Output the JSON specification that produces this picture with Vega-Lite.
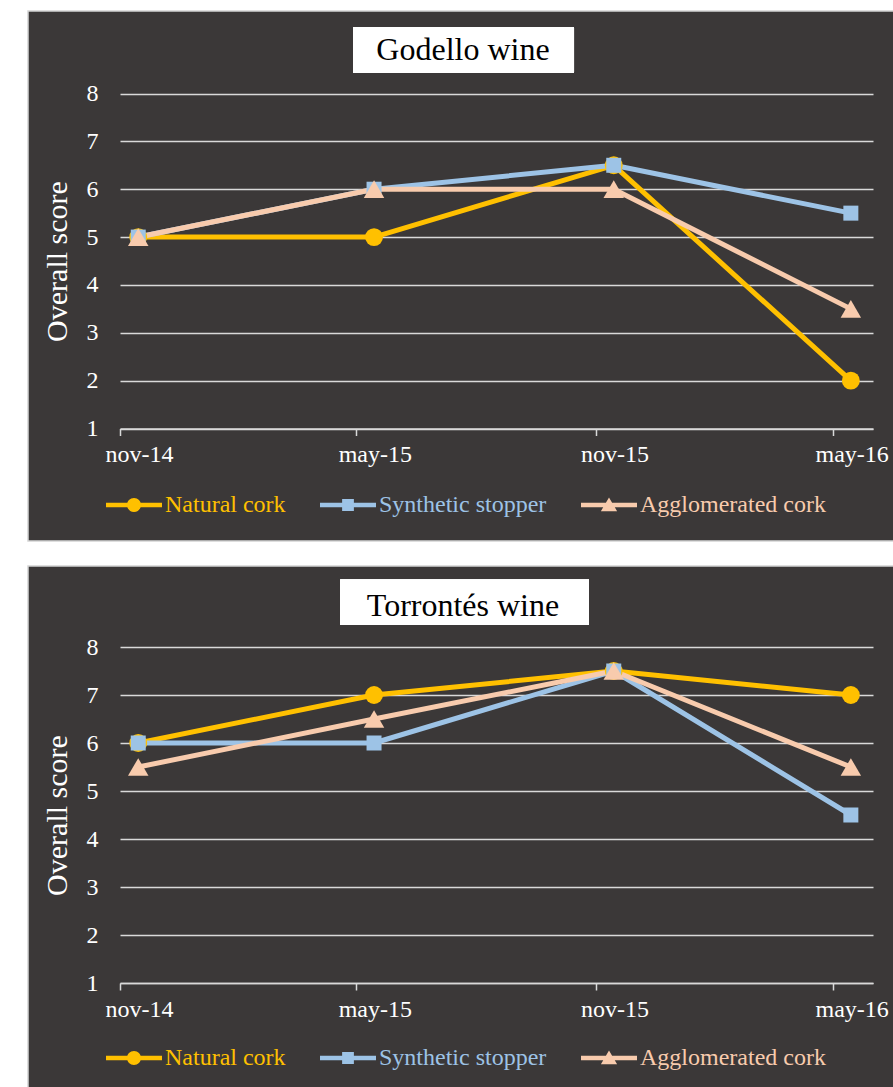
{
  "$schema": "https://vega.github.io/schema/vega-lite/v6.json",
  "background": "white",
  "padding": {"left": 27, "top": 10, "right": 0, "bottom": 0},
  "spacing": 23,
  "datasets": {
    "godello": [
      {"date": "2014-11-15", "series": "Natural cork", "score": 5},
      {"date": "2015-05-15", "series": "Natural cork", "score": 5},
      {"date": "2015-11-15", "series": "Natural cork", "score": 6.5},
      {"date": "2016-05-15", "series": "Natural cork", "score": 2},
      {"date": "2014-11-15", "series": "Synthetic stopper", "score": 5},
      {"date": "2015-05-15", "series": "Synthetic stopper", "score": 6},
      {"date": "2015-11-15", "series": "Synthetic stopper", "score": 6.5},
      {"date": "2016-05-15", "series": "Synthetic stopper", "score": 5.5},
      {"date": "2014-11-15", "series": "Agglomerated cork", "score": 5},
      {"date": "2015-05-15", "series": "Agglomerated cork", "score": 6},
      {"date": "2015-11-15", "series": "Agglomerated cork", "score": 6},
      {"date": "2016-05-15", "series": "Agglomerated cork", "score": 3.5}
    ],
    "torrontes": [
      {"date": "2014-11-15", "series": "Natural cork", "score": 6},
      {"date": "2015-05-15", "series": "Natural cork", "score": 7},
      {"date": "2015-11-15", "series": "Natural cork", "score": 7.5},
      {"date": "2016-05-15", "series": "Natural cork", "score": 7},
      {"date": "2014-11-15", "series": "Synthetic stopper", "score": 6},
      {"date": "2015-05-15", "series": "Synthetic stopper", "score": 6},
      {"date": "2015-11-15", "series": "Synthetic stopper", "score": 7.5},
      {"date": "2016-05-15", "series": "Synthetic stopper", "score": 4.5},
      {"date": "2014-11-15", "series": "Agglomerated cork", "score": 5.5},
      {"date": "2015-05-15", "series": "Agglomerated cork", "score": 6.5},
      {"date": "2015-11-15", "series": "Agglomerated cork", "score": 7.5},
      {"date": "2016-05-15", "series": "Agglomerated cork", "score": 5.5}
    ]
  },
  "resolve": {
    "scale": {"x": "independent", "y": "independent", "color": "independent"},
    "axis": {"x": "independent", "y": "independent"},
    "legend": {"color": "independent"}
  },
  "vconcat": [
    {
      "width": 870,
      "height": 530,
      "data": {"name": "godello"},
      "title": {"text": "Godello wine", "frame": "group", "anchor": "middle", "offset": -81, "baseline": "alphabetic", "font": "Liberation Serif", "fontSize": 32, "fontWeight": "normal", "color": "black"},
      "layer": [
        {
          "mark": {"type": "rect", "fill": "white"},
          "encoding": {
            "x": {"datum": {"year": 2015, "month": 4, "date": 29, "utc": true}, "type": "temporal"},
            "x2": {"datum": {"year": 2015, "month": 10, "date": 15, "hours": 12, "utc": true}},
            "y": {"datum": 9.38, "type": "quantitative"},
            "y2": {"datum": 8.44}
          }
        },
        {
          "mark": {"type": "line", "strokeWidth": 5, "strokeJoin": "round"},
          "encoding": {
            "x": {
              "field": "date", "type": "temporal",
              "scale": {"type": "utc", "domain": [{"year": 2014, "month": 11, "date": 1, "utc": true}, {"year": 2016, "month": 6, "date": 1, "utc": true}], "range": [92, 845]},
              "axis": {
                "title": null, "orient": "bottom", "offset": -112.5,
                "values": [{"year": 2014, "month": 11, "date": 1, "utc": true}, {"year": 2015, "month": 5, "date": 1, "utc": true}, {"year": 2015, "month": 11, "date": 1, "utc": true}, {"year": 2016, "month": 5, "date": 1, "utc": true}],
                "labelExpr": "lower(utcFormat(datum.value, '%b-%y'))",
                "grid": false, "domainColor": "#D9D9D9", "domainWidth": 1.5, "tickColor": "#D9D9D9", "tickWidth": 1.5, "tickSize": 7,
                "labelOffset": 19, "labelPadding": 7, "labelFont": "Liberation Serif", "labelFontSize": 24, "labelColor": "white",
                "labelFlush": false, "labelOverlap": false, "labelBound": false
              }
            },
            "y": {
              "field": "score", "type": "quantitative",
              "scale": {"domain": [1, 8], "range": [417.5, 82.5], "nice": false, "zero": false},
              "axis": {
                "title": "Overall score", "orient": "left", "offset": -92, "values": [1, 2, 3, 4, 5, 6, 7, 8], "format": "d",
                "grid": true, "gridColor": "#D9D9D9", "gridWidth": 1.5, "domain": false, "ticks": false,
                "labelPadding": 22, "labelFont": "Liberation Serif", "labelFontSize": 24, "labelColor": "white",
                "titleFont": "Liberation Serif", "titleFontSize": 30, "titleFontWeight": "normal", "titleColor": "white", "titlePadding": 14
              }
            },
            "color": {
              "field": "series", "type": "nominal",
              "scale": {"domain": ["Natural cork", "Synthetic stopper", "Agglomerated cork"], "range": ["#FFC000", "#9DC3E6", "#F8CBAD"]},
              "legend": {
                "orient": "none", "legendX": 78, "legendY": 466, "direction": "horizontal", "title": null, "padding": 0,
                "symbolSize": 3136, "symbolStrokeWidth": 0,
                "labelFont": "Liberation Serif", "labelFontSize": 24, "labelOffset": 3, "columnPadding": 34, "labelLimit": 400,
                "encode": {
                  "symbols": {"update": {
                    "shape": {"signal": "datum.value === 'Natural cork' ? 'M-1,-0.08L1,-0.08L1,0.08L-1,0.08Z M-0.25,0A0.25,0.25 0 1,1 0.25,0A0.25,0.25 0 1,1 -0.25,0Z' : datum.value === 'Synthetic stopper' ? 'M-1,-0.08L1,-0.08L1,0.08L-1,0.08Z M-0.21,-0.21L0.21,-0.21L0.21,0.21L-0.21,0.21Z' : 'M-1,-0.08L1,-0.08L1,0.08L-1,0.08Z M0,-0.27L0.29,0.22L-0.29,0.22Z'"},
                    "size": {"value": 3136},
                    "fill": {"signal": "datum.value === 'Natural cork' ? '#FFC000' : datum.value === 'Synthetic stopper' ? '#9DC3E6' : '#F8CBAD'"},
                    "stroke": {"value": "transparent"},
                    "strokeWidth": {"value": 0},
                    "opacity": {"value": 1},
                    "fillOpacity": {"value": 1}
                  }},
                  "labels": {"update": {
                    "fill": {"signal": "datum.value === 'Natural cork' ? '#FFC000' : datum.value === 'Synthetic stopper' ? '#9DC3E6' : '#F8CBAD'"}
                  }}
                }
              }
            }
          }
        },
        {
          "transform": [{"filter": "datum.series === 'Natural cork'"}],
          "mark": {"type": "point", "filled": true, "opacity": 1, "shape": "circle", "size": 320, "color": "#FFC000"},
          "encoding": {"x": {"field": "date", "type": "temporal"}, "y": {"field": "score", "type": "quantitative"}}
        },
        {
          "transform": [{"filter": "datum.series === 'Synthetic stopper'"}],
          "mark": {"type": "point", "filled": true, "opacity": 1, "shape": "square", "size": 225, "color": "#9DC3E6"},
          "encoding": {"x": {"field": "date", "type": "temporal"}, "y": {"field": "score", "type": "quantitative"}}
        },
        {
          "transform": [{"filter": "datum.series === 'Agglomerated cork'"}],
          "mark": {"type": "point", "filled": true, "opacity": 1, "shape": "triangle-up", "size": 420, "color": "#F8CBAD"},
          "encoding": {"x": {"field": "date", "type": "temporal"}, "y": {"field": "score", "type": "quantitative"}}
        }
      ]
    },
    {
      "width": 870,
      "height": 530,
      "data": {"name": "torrontes"},
      "title": {"text": "Torrontés wine", "frame": "group", "anchor": "middle", "offset": -82, "baseline": "alphabetic", "font": "Liberation Serif", "fontSize": 32, "fontWeight": "normal", "color": "black"},
      "layer": [
        {
          "mark": {"type": "rect", "fill": "white"},
          "encoding": {
            "x": {"datum": {"year": 2015, "month": 4, "date": 19, "utc": true}, "type": "temporal"},
            "x2": {"datum": {"year": 2015, "month": 10, "date": 27, "utc": true}},
            "y": {"datum": 9.4, "type": "quantitative"},
            "y2": {"datum": 8.46}
          }
        },
        {
          "mark": {"type": "line", "strokeWidth": 5, "strokeJoin": "round"},
          "encoding": {
            "x": {
              "field": "date", "type": "temporal",
              "scale": {"type": "utc", "domain": [{"year": 2014, "month": 11, "date": 1, "utc": true}, {"year": 2016, "month": 6, "date": 1, "utc": true}], "range": [92, 845]},
              "axis": {
                "title": null, "orient": "bottom", "offset": -113,
                "values": [{"year": 2014, "month": 11, "date": 1, "utc": true}, {"year": 2015, "month": 5, "date": 1, "utc": true}, {"year": 2015, "month": 11, "date": 1, "utc": true}, {"year": 2016, "month": 5, "date": 1, "utc": true}],
                "labelExpr": "lower(utcFormat(datum.value, '%b-%y'))",
                "grid": false, "domainColor": "#D9D9D9", "domainWidth": 1.5, "tickColor": "#D9D9D9", "tickWidth": 1.5, "tickSize": 7,
                "labelOffset": 19, "labelPadding": 7, "labelFont": "Liberation Serif", "labelFontSize": 24, "labelColor": "white",
                "labelFlush": false, "labelOverlap": false, "labelBound": false
              }
            },
            "y": {
              "field": "score", "type": "quantitative",
              "scale": {"domain": [1, 8], "range": [417, 81], "nice": false, "zero": false},
              "axis": {
                "title": "Overall score", "orient": "left", "offset": -92, "values": [1, 2, 3, 4, 5, 6, 7, 8], "format": "d",
                "grid": true, "gridColor": "#D9D9D9", "gridWidth": 1.5, "domain": false, "ticks": false,
                "labelPadding": 22, "labelFont": "Liberation Serif", "labelFontSize": 24, "labelColor": "white",
                "titleFont": "Liberation Serif", "titleFontSize": 30, "titleFontWeight": "normal", "titleColor": "white", "titlePadding": 14
              }
            },
            "color": {
              "field": "series", "type": "nominal",
              "scale": {"domain": ["Natural cork", "Synthetic stopper", "Agglomerated cork"], "range": ["#FFC000", "#9DC3E6", "#F8CBAD"]},
              "legend": {
                "orient": "none", "legendX": 78, "legendY": 464, "direction": "horizontal", "title": null, "padding": 0,
                "symbolSize": 3136, "symbolStrokeWidth": 0,
                "labelFont": "Liberation Serif", "labelFontSize": 24, "labelOffset": 3, "columnPadding": 34, "labelLimit": 400,
                "encode": {
                  "symbols": {"update": {
                    "shape": {"signal": "datum.value === 'Natural cork' ? 'M-1,-0.08L1,-0.08L1,0.08L-1,0.08Z M-0.25,0A0.25,0.25 0 1,1 0.25,0A0.25,0.25 0 1,1 -0.25,0Z' : datum.value === 'Synthetic stopper' ? 'M-1,-0.08L1,-0.08L1,0.08L-1,0.08Z M-0.21,-0.21L0.21,-0.21L0.21,0.21L-0.21,0.21Z' : 'M-1,-0.08L1,-0.08L1,0.08L-1,0.08Z M0,-0.27L0.29,0.22L-0.29,0.22Z'"},
                    "size": {"value": 3136},
                    "fill": {"signal": "datum.value === 'Natural cork' ? '#FFC000' : datum.value === 'Synthetic stopper' ? '#9DC3E6' : '#F8CBAD'"},
                    "stroke": {"value": "transparent"},
                    "strokeWidth": {"value": 0},
                    "opacity": {"value": 1},
                    "fillOpacity": {"value": 1}
                  }},
                  "labels": {"update": {
                    "fill": {"signal": "datum.value === 'Natural cork' ? '#FFC000' : datum.value === 'Synthetic stopper' ? '#9DC3E6' : '#F8CBAD'"}
                  }}
                }
              }
            }
          }
        },
        {
          "transform": [{"filter": "datum.series === 'Natural cork'"}],
          "mark": {"type": "point", "filled": true, "opacity": 1, "shape": "circle", "size": 320, "color": "#FFC000"},
          "encoding": {"x": {"field": "date", "type": "temporal"}, "y": {"field": "score", "type": "quantitative"}}
        },
        {
          "transform": [{"filter": "datum.series === 'Synthetic stopper'"}],
          "mark": {"type": "point", "filled": true, "opacity": 1, "shape": "square", "size": 225, "color": "#9DC3E6"},
          "encoding": {"x": {"field": "date", "type": "temporal"}, "y": {"field": "score", "type": "quantitative"}}
        },
        {
          "transform": [{"filter": "datum.series === 'Agglomerated cork'"}],
          "mark": {"type": "point", "filled": true, "opacity": 1, "shape": "triangle-up", "size": 420, "color": "#F8CBAD"},
          "encoding": {"x": {"field": "date", "type": "temporal"}, "y": {"field": "score", "type": "quantitative"}}
        }
      ]
    }
  ],
  "config": {
    "view": {"fill": "#3B3838", "stroke": "#D4D4D4", "strokeWidth": 1.5},
    "font": "Liberation Serif"
  }
}
